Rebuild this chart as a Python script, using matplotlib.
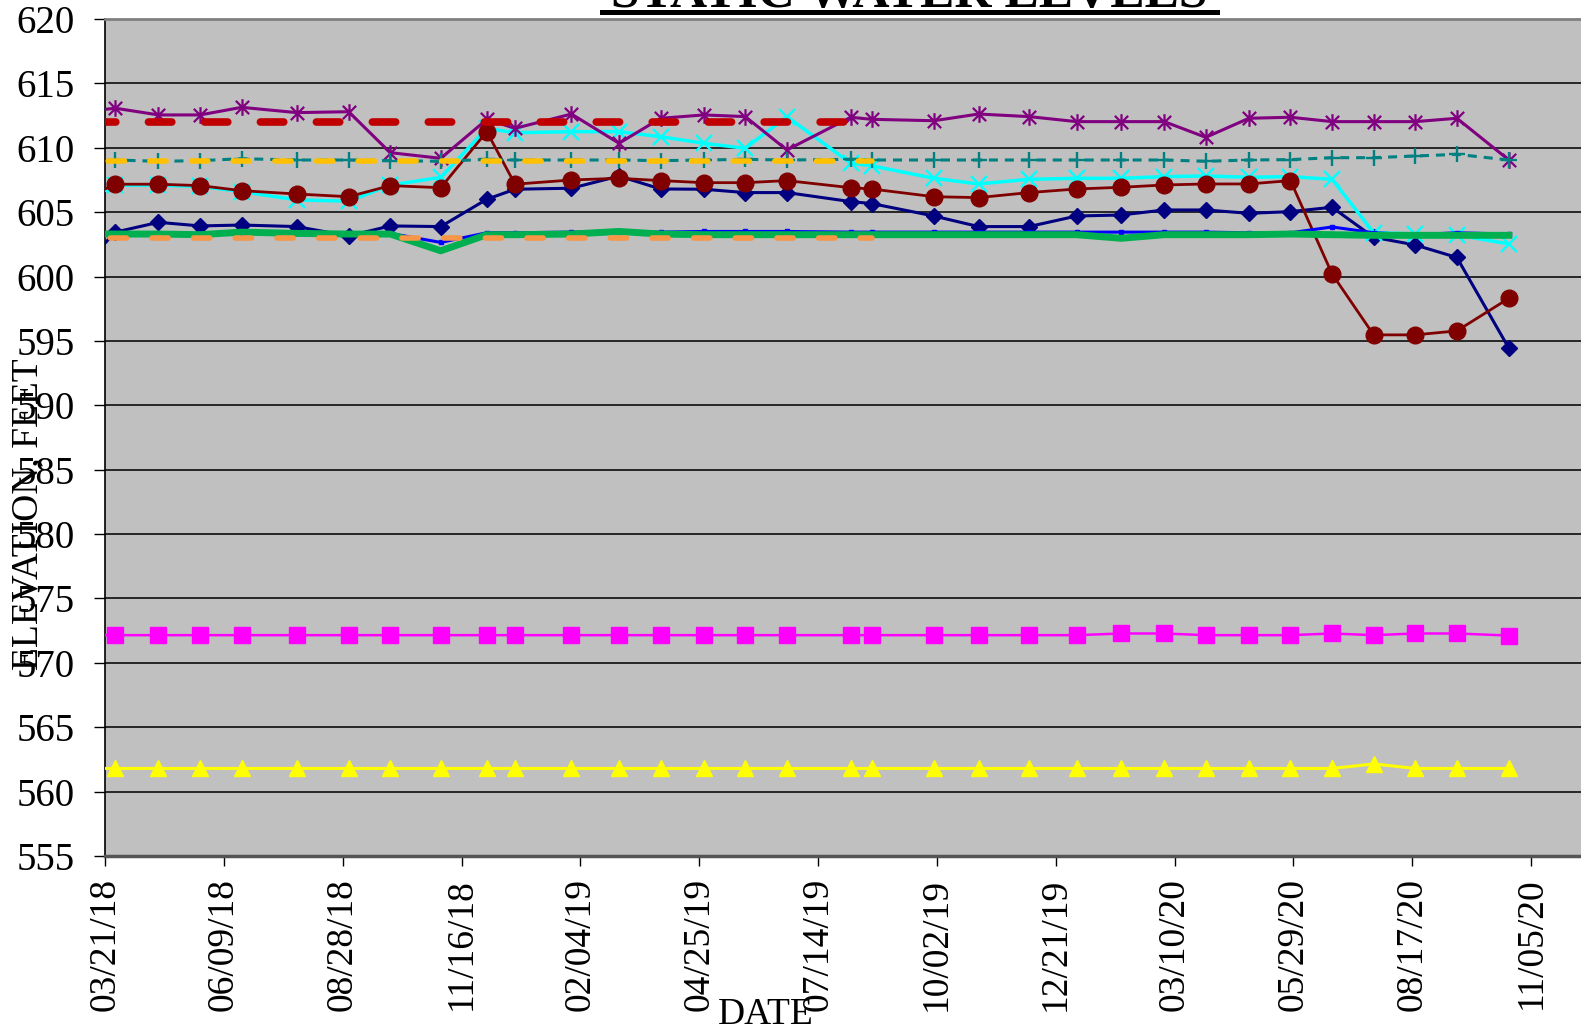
import matplotlib
matplotlib.use("Agg")
import matplotlib.pyplot as plt
from matplotlib.path import Path
from matplotlib.lines import Line2D
from datetime import datetime

# ---- data -------------------------------------------------------------
dates = ['03/14/18', '03/28/18', '04/26/18', '05/24/18', '06/21/18', '07/28/18',
         '09/01/18', '09/29/18', '11/02/18', '12/03/18', '12/22/18', '01/29/19',
         '03/02/19', '03/30/19', '04/28/19', '05/26/19', '06/23/19', '08/05/19',
         '08/19/19', '09/30/19', '10/30/19', '12/03/19', '01/04/20', '02/03/20',
         '03/03/20', '03/31/20', '04/29/20', '05/27/20', '06/24/20', '07/22/20',
         '08/19/20', '09/16/20', '10/21/20']

well_purple = [612.9, 613.07, 612.55, 612.55, 613.14, 612.73, 612.8, 609.62, 609.18,
               612.2, 611.51, 612.62, 610.35, 612.29, 612.55, 612.42, 609.83, 612.37,
               612.21, 612.1, 612.62, 612.42, 612.03, 612.03, 612.03, 610.81, 612.29,
               612.37, 612.03, 612.03, 612.03, 612.29, 609.05]

well_cyan = [606.3, 607.1, 607.1, 607.0, 606.6, 605.95, 605.85, 607.1, 607.7,
             611.5, 611.17, 611.25, 611.25, 610.86, 610.35, 609.96, 612.42, 608.8,
             608.6, 607.63, 607.19, 607.55, 607.63, 607.63, 607.76, 607.81, 607.71,
             607.76, 607.55, 603.41, 603.31, 603.23, 602.53]

well_maroon = [606.42, 607.17, 607.17, 607.06, 606.67, 606.41, 606.2, 607.06, 606.9,
               611.25, 607.17, 607.5, 607.63, 607.45, 607.29, 607.29, 607.45, 606.9,
               606.8, 606.2, 606.13, 606.52, 606.8, 606.93, 607.11, 607.19, 607.19,
               607.45, 600.2, 595.47, 595.47, 595.78, 598.31]

well_navy = [601.74, 603.45, 604.21, 603.93, 604.0, 603.88, 603.15, 603.93, 603.88,
             606.0, 606.78, 606.86, 607.8, 606.8, 606.78, 606.52, 606.52, 605.82,
             605.67, 604.7, 603.88, 603.88, 604.7, 604.78, 605.17, 605.17, 604.91,
             605.04, 605.38, 603.05, 602.45, 601.48, 594.43]

well_blue = [603.35, 603.35, 603.4, 603.35, 603.4, 603.35, 603.3, 603.35, 602.65,
             603.4, 603.4, 603.45, 603.45, 603.45, 603.5, 603.5, 603.5, 603.45,
             603.45, 603.45, 603.45, 603.45, 603.45, 603.45, 603.45, 603.45, 603.4,
             603.4, 603.85, 603.4, 603.25, 603.4, 603.3]

well_green = [603.3, 603.3, 603.3, 603.25, 603.45, 603.35, 603.3, 603.3, 602.0,
              603.25, 603.25, 603.3, 603.5, 603.3, 603.25, 603.25, 603.25, 603.25,
              603.25, 603.25, 603.25, 603.25, 603.25, 602.97, 603.25, 603.25, 603.25,
              603.3, 603.25, 603.2, 603.2, 603.2, 603.2]

well_teal = [609.0, 609.05, 608.95, 609.0, 609.15, 609.05, 609.05, 609.0, 608.95,
             609.1, 609.05, 609.05, 609.05, 609.0, 609.05, 609.1, 609.05, 609.1,
             609.05, 609.05, 609.05, 609.05, 609.05, 609.05, 609.05, 608.95, 609.05,
             609.08, 609.23, 609.23, 609.36, 609.49, 609.05]

well_magenta = [572.15, 572.15, 572.15, 572.15, 572.15, 572.15, 572.15, 572.15, 572.15,
                572.15, 572.15, 572.15, 572.15, 572.15, 572.15, 572.15, 572.15, 572.15,
                572.15, 572.15, 572.15, 572.15, 572.15, 572.28, 572.28, 572.15, 572.15,
                572.15, 572.28, 572.15, 572.28, 572.28, 572.12]

well_yellow = [561.8, 561.8, 561.8, 561.8, 561.8, 561.8, 561.8, 561.8, 561.8,
               561.8, 561.8, 561.8, 561.8, 561.8, 561.8, 561.8, 561.8, 561.8,
               561.8, 561.8, 561.8, 561.8, 561.8, 561.8, 561.8, 561.8, 561.8,
               561.8, 561.8, 562.15, 561.8, 561.8, 561.8]

# reference elevations, drawn through the 08/19/19 reading
ref_last_date = '08/19/19'
ref_high = 612.0
ref_mid = 609.0
ref_low = 603.0

x_tick_labels = ['03/21/18', '06/09/18', '08/28/18', '11/16/18', '02/04/19', '04/25/19',
                 '07/14/19', '10/02/19', '12/21/19', '03/10/20', '05/29/20', '08/17/20',
                 '11/05/20']
x_axis_end = '01/24/21'
y_ticks = [555, 560, 565, 570, 575, 580, 585, 590, 595, 600, 605, 610, 615, 620]

# ---- figure -----------------------------------------------------------
plt.rcParams['font.family'] = ['Liberation Serif', 'DejaVu Serif']
plt.rcParams['lines.scale_dashes'] = False

W, H = 1581, 1027
fig = plt.figure(figsize=(W / 100, H / 100), dpi=100)
fig.patch.set_facecolor('white')

x_left, x_right = 105, 1650
y_top, y_bot = 19, 856
ax = fig.add_axes([x_left / W, 1 - y_bot / H, (x_right - x_left) / W, (y_bot - y_top) / H])
ax.set_facecolor('#C0C0C0')

to_dt = lambda s: datetime.strptime(s, '%m/%d/%y')
t = [to_dt(d) for d in dates]
n_ref = dates.index(ref_last_date) + 1
t_ref = t[:n_ref]

# Excel-style asterisk marker: an X with a vertical bar
asterisk = Path([(-1, -1), (1, 1), (-1, 1), (1, -1), (0, -1.25), (0, 1.25)],
                [Path.MOVETO, Path.LINETO, Path.MOVETO, Path.LINETO, Path.MOVETO, Path.LINETO])

ax.plot(t, well_navy, color='#000080', lw=2.2, marker='D', ms=8.5, mec='#000080', zorder=3)
ax.plot(t, well_magenta, color='#FF00FF', lw=1.8, marker='s', ms=11, mec='#FF00FF', zorder=3)
ax.plot(t, well_yellow, color='#FFFF00', lw=2.2, marker='^', ms=11.5, mec='#FFFF00', zorder=3)
ax.plot(t, well_cyan, color='#00FFFF', lw=2.5, marker='x', ms=11, mew=1.7, zorder=4)
ax.plot(t, well_purple, color='#800080', lw=2.2, marker=asterisk, ms=12, mew=1.6,
        mec='#800080', zorder=5)
ax.plot(t, well_maroon, color='#800000', lw=2.0, marker='o', ms=12, mec='#800000', zorder=6)
ax.plot(t, well_blue, color='#0000FF', lw=2.2, marker='s', ms=3.5, mec='#0000FF', zorder=6)
ax.plot(t, well_teal, color='#008080', lw=2.2, linestyle=(0, (6.5, 5)), marker='+', ms=11,
        mew=1.7, zorder=7)
ax.plot(t, well_green, color='#00B050', lw=5, solid_joinstyle='round', zorder=8)

ax.plot(t_ref, [ref_high] * n_ref, color='#C00000', lw=5.5, dash_capstyle='round',
        linestyle=(1.8, (16.8, 23.5)), zorder=9)
ax.plot(t_ref, [ref_mid] * n_ref, color='#FFC000', lw=4.0, dash_capstyle='round',
        linestyle=(20.5, (11.7, 18.3)), zorder=9)
ax.plot(t_ref, [ref_low] * n_ref, color='#F79646', lw=4.0, dash_capstyle='round',
        linestyle=(19.0, (11.7, 18.3)), zorder=9)

# axes limits & ticks
x_ticks = [to_dt(s) for s in x_tick_labels]
ax.set_xlim(x_ticks[0], to_dt(x_axis_end))
ax.set_ylim(555, 620)
ax.set_xticks(x_ticks)
ax.set_xticklabels(x_tick_labels, rotation=90, fontsize=27)
ax.set_yticks(y_ticks)
ax.set_yticklabels([str(v) for v in y_ticks], fontsize=28)
ax.tick_params(axis='y', direction='out', length=8, width=1, pad=14, colors='black')
ax.tick_params(axis='x', direction='out', length=7.2, width=1, pad=8.5, colors='black')

ax.grid(axis='y', color='#1a1a1a', lw=1.3, zorder=1)
ax.grid(axis='x', visible=False)
ax.set_axisbelow(True)

ax.spines['left'].set_color('black')
ax.spines['left'].set_linewidth(1.2)
ax.spines['top'].set_color('#808080')
ax.spines['top'].set_linewidth(2)
ax.spines['bottom'].set_color('#555555')
ax.spines['bottom'].set_linewidth(2.5)
ax.spines['right'].set_visible(False)

# titles
fig.text(909.5 / W, 1 - 7 / H, 'STATIC WATER LEVELS', fontsize=37, fontweight='bold',
         ha='center', va='baseline')
fig.add_artist(Line2D([602 / W, 1217 / W], [1 - 12 / H, 1 - 12 / H],
                      transform=fig.transFigure, color='black', lw=3.6))
fig.text(28 / W, 1 - 514 / H, 'ELEVATION, FEET', fontsize=27, rotation=90,
         ha='center', va='center')
fig.text(766 / W, 1 - 1024 / H, 'DATE', fontsize=27, ha='center', va='baseline')

fig.savefig('out.png', dpi=100)
